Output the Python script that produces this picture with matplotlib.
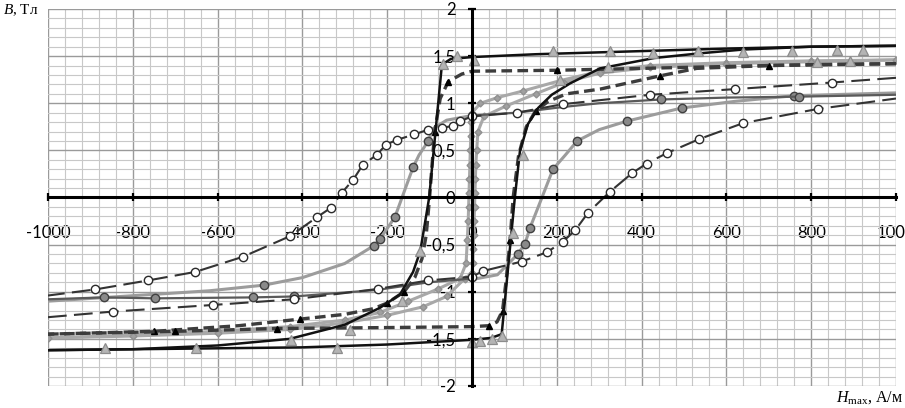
import matplotlib
matplotlib.use("Agg")
import matplotlib.pyplot as plt
from matplotlib.ticker import MultipleLocator

plt.rcParams['font.family'] = ['Lato', 'DejaVu Sans']
plt.rcParams['mathtext.fontset'] = 'custom'
plt.rcParams['mathtext.it'] = 'Liberation Serif:italic'
plt.rcParams['mathtext.rm'] = 'Liberation Serif'

# axis ticks
x_ticks = [-1000, -800, -600, -400, -200, 0, 200, 400, 600, 800, 1000]
x_tick_labels = ['-1000', '-800', '-600', '-400', '-200', '0', '200', '400', '600', '800', '1000']
y_ticks = [-2, -1.5, -1, -0.5, 0, 0.5, 1, 1.5, 2]
y_tick_labels = ['-2', '-1,5', '-1', '-0,5', '0', '0,5', '1', '1,5', '2']

# black loop, descending and ascending branch
black_desc_x = [1000, 800, 600, 450, 300, 150, 0, -50, -71, -85, -101, -112, -122, -139, -170, -217, -300, -430, -600, -800, -1000]
black_desc_y = [1.61, 1.6, 1.58, 1.56, 1.54, 1.52, 1.49, 1.47, 1.41, 0.75, 0.0, -0.3, -0.57, -0.79, -1.03, -1.17, -1.35, -1.5, -1.57, -1.61, -1.62]
black_asc_x = [-1000, -800, -600, -400, -200, -80, 0, 45, 70, 85, 101, 113, 132, 156, 188, 231, 302, 430, 538, 640, 800, 1000]
black_asc_y = [-1.62, -1.61, -1.6, -1.59, -1.56, -1.53, -1.51, -1.49, -1.45, -0.75, 0.0, 0.49, 0.78, 0.95, 1.09, 1.21, 1.37, 1.48, 1.53, 1.57, 1.6, 1.61]

# gray triangles (points)
tri_x = [-866, -651, -427, -319, -288, -166, -122, -68, -35, 5, 0, 19, 47, 70, 97, 121, 191, 208, 325, 427, 533, 640, 755, 860, 922, 321, 813, 892]
tri_y = [-1.6, -1.6, -1.51, -1.6, -1.41, -1.1, -0.57, 1.42, 1.5, 1.46, -1.53, -1.52, -1.5, -1.47, -0.38, 0.45, 1.55, 1.25, 1.55, 1.53, 1.55, 1.54, 1.55, 1.56, 1.56, 1.38, 1.44, 1.45]

# dashed loop
dash_desc_x = [1000, 800, 600, 400, 200, 0, -24, -56, -75, -88, -95, -100, -108, -118, -135, -160, -200, -233, -300, -405, -550, -750, -1000]
dash_desc_y = [1.42, 1.41, 1.39, 1.37, 1.35, 1.34, 1.31, 1.23, 1.05, 0.7, 0.3, 0.0, -0.4, -0.65, -0.85, -1.0, -1.12, -1.18, -1.24, -1.29, -1.36, -1.42, -1.45]
dash_asc_x = [-1000, -700, -460, -200, 0, 40, 59, 72, 80, 90, 97, 110, 128, 150, 180, 223, 302, 443, 530, 700, 1000]
dash_asc_y = [-1.45, -1.42, -1.39, -1.38, -1.37, -1.36, -1.32, -1.2, -0.9, -0.45, 0.0, 0.45, 0.75, 0.92, 1.02, 1.1, 1.15, 1.29, 1.37, 1.4, 1.42]
dash_desc_marks = [4, 7, 9, 15, 16, 19, 21]
dash_asc_marks = [1, 2, 5, 7, 9, 13, 17, 19]

# light gray narrow loop with diamonds
lg_desc_x = [1000, 800, 600, 420, 302, 208, 120, 60, 20, 0, -2, -3, -4, -5, -6, -7, -8, -9, -11, -14, -28, -80, -150, -217, -300, -430, -600, -800, -1000]
lg_desc_y = [1.46, 1.45, 1.43, 1.4, 1.34, 1.24, 1.13, 1.06, 1.0, 0.9, 0.8, 0.65, 0.5, 0.35, 0.2, 0.05, -0.1, -0.25, -0.45, -0.7, -0.86, -0.97, -1.1, -1.22, -1.3, -1.37, -1.42, -1.46, -1.49]
lg_asc_x = [-1000, -800, -600, -430, -300, -200, -116, -60, -17, 0, 2, 3, 4, 5, 6, 7, 8, 9, 11, 14, 28, 80, 150, 217, 302, 420, 600, 800, 1000]
lg_asc_y = [-1.49, -1.47, -1.44, -1.4, -1.33, -1.25, -1.16, -1.05, -0.86, -0.8, -0.7, -0.55, -0.4, -0.25, -0.1, 0.05, 0.2, 0.35, 0.5, 0.7, 0.86, 0.97, 1.1, 1.22, 1.32, 1.38, 1.42, 1.44, 1.46]

# wide loop with open circles
oc_desc_x = [1000, 849, 620, 420, 214, 106, 0, -28, -44, -70, -103, -136, -178, -203, -225, -257, -280, -307, -333, -366, -429, -541, -653, -764, -888, -1000]
oc_desc_y = [1.27, 1.22, 1.15, 1.09, 0.99, 0.9, 0.86, 0.81, 0.76, 0.74, 0.72, 0.67, 0.61, 0.56, 0.45, 0.35, 0.19, 0.05, -0.11, -0.21, -0.41, -0.63, -0.79, -0.88, -0.975, -1.04]
oc_asc_x = [-1000, -846, -610, -420, -222, -103, 0, 26, 117, 177, 214, 243, 274, 325, 378, 412, 459, 536, 640, 816, 1000]
oc_asc_y = [-1.27, -1.21, -1.14, -1.08, -0.97, -0.88, -0.84, -0.78, -0.68, -0.58, -0.47, -0.35, -0.16, 0.06, 0.26, 0.36, 0.47, 0.62, 0.79, 0.94, 1.05]

# gray loop with filled circles: steep branches (light) and flat branches (dark)
fc_desc_x = [0, -60, -92, -103, -125, -139, -165, -182, -217, -231, -300, -400, -491, -620, -759, -1000]
fc_desc_y = [0.87, 0.82, 0.73, 0.6, 0.45, 0.32, 0.0, -0.21, -0.44, -0.51, -0.7, -0.85, -0.93, -0.99, -1.03, -1.1]
fc_asc_x = [0, 60, 82, 108, 125, 137, 165, 191, 220, 248, 300, 365, 495, 620, 760, 1000]
fc_asc_y = [-0.87, -0.82, -0.72, -0.6, -0.49, -0.32, 0.0, 0.3, 0.45, 0.6, 0.72, 0.81, 0.95, 1.02, 1.08, 1.11]
fc_desc_marks = [3, 5, 7, 8, 9, 12]
fc_asc_marks = [3, 4, 5, 7, 9, 11, 12, 14]
fc_top_x = [0, 106, 214, 300, 446, 600, 771, 1000]
fc_top_y = [0.87, 0.9, 0.96, 1.0, 1.04, 1.06, 1.07, 1.09]
fc_bot_x = [-1000, -868, -748, -517, -419, -222, -103, 0]
fc_bot_y = [-1.08, -1.06, -1.07, -1.06, -1.05, -0.98, -0.9, -0.86]

fig = plt.figure(figsize=(9.05, 4.08), dpi=100)
ax = fig.add_axes([48/905, 1 - 386/408, 848/905, 377/408])
ax.set_xlim(-1000, 1000)
ax.set_ylim(-2, 2)

ax.set_xticks(x_ticks, x_tick_labels)
ax.set_yticks(y_ticks, y_tick_labels)
ax.xaxis.set_minor_locator(MultipleLocator(40))
ax.yaxis.set_minor_locator(MultipleLocator(0.1))
ax.grid(which='major', color='#9a9a9a', lw=1.0)
ax.grid(which='minor', color='#c8c8c8', lw=0.8)
ax.set_axisbelow(True)

for s in ['top', 'right']:
    ax.spines[s].set_visible(False)
for s in ['left', 'bottom']:
    ax.spines[s].set_position(('data', 0))
    ax.spines[s].set_linewidth(2.2)
    ax.spines[s].set_zorder(10)
ax.tick_params(which='minor', length=0)
ax.tick_params(which='major', direction='inout', length=6, width=1.6, labelsize=12, colors='black')
ax.tick_params(axis='x', pad=17)
ax.tick_params(axis='y', pad=9)

# light gray lines
ax.plot(lg_desc_x, lg_desc_y, color='#a8a8a8', lw=2.2, marker='D', ms=3.5, mfc='#a0a0a0', mec='#909090', zorder=3)
ax.plot(lg_asc_x, lg_asc_y, color='#a8a8a8', lw=2.2, marker='D', ms=3.5, mfc='#a0a0a0', mec='#909090', zorder=3)
mk = dict(marker='o', ms=6, mfc='#8a8a8a', mec='#404040', mew=1.0)
ax.plot(fc_desc_x, fc_desc_y, color='#9c9c9c', lw=2.2, markevery=fc_desc_marks, zorder=3, **mk)
ax.plot(fc_asc_x, fc_asc_y, color='#9c9c9c', lw=2.2, markevery=fc_asc_marks, zorder=3, **mk)
ax.plot(fc_top_x, fc_top_y, color='#5a5a5a', lw=1.6, markevery=[4, 6], zorder=4, **mk)
ax.plot(fc_bot_x, fc_bot_y, color='#5a5a5a', lw=1.6, markevery=[1, 2, 3, 4], zorder=4, **mk)

# open circles
oc = dict(color='#333333', lw=1.5, dashes=(9, 3.5), marker='o', ms=6, mfc='white', mec='#2a2a2a', mew=1.0, zorder=4)
ax.plot(oc_desc_x, oc_desc_y, markevery=slice(1, -1), **oc)
ax.plot(oc_asc_x, oc_asc_y, markevery=slice(1, -1), **oc)

# dashed loop
dk = dict(color='#3c3c3c', lw=2.4, dashes=(3.2, 1.6), marker='^', ms=4, mfc='black', mec='black', zorder=5)
ax.plot(dash_desc_x, dash_desc_y, markevery=dash_desc_marks, **dk)
ax.plot(dash_asc_x, dash_asc_y, markevery=dash_asc_marks, **dk)

# black loop
ax.plot(black_desc_x, black_desc_y, color='#111111', lw=1.8, zorder=6)
ax.plot(black_asc_x, black_asc_y, color='#111111', lw=1.8, zorder=6)

ax.plot(tri_x, tri_y, ls='none', marker='^', ms=7.5, mfc='#b4b4b4', mec='#8c8c8c', mew=0.9, zorder=7)

fig.text(3/905, 1 - 10/408, '$B$, Тл', family='Liberation Serif', fontsize=11, va='center', ha='left')
fig.text(903/905, 1 - 398/408, '$H_{\\mathrm{max}}$, А/м', family='Liberation Serif', fontsize=11.5, va='center', ha='right')

fig.savefig('out.png', dpi=100)
